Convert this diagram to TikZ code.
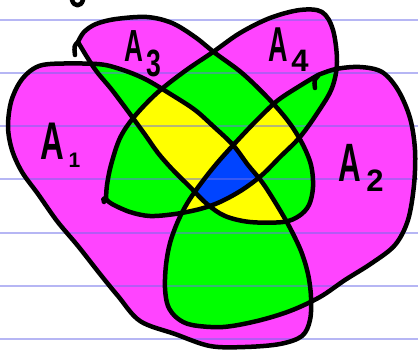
\documentclass[tikz,border=0pt]{standalone}
\usepackage{fontspec}
\setmainfont{Liberation Sans}
\usepackage{graphicx}
\definecolor{mag}{RGB}{255,68,255}
\definecolor{grn}{RGB}{0,255,0}
\definecolor{ylw}{RGB}{255,255,0}
\definecolor{blu}{RGB}{0,68,255}
\definecolor{rule}{RGB}{110,110,235}
\begin{document}
\begin{tikzpicture}[x=1pt,y=-1pt,
  outline/.style={draw=black,line width=4.5pt,line join=round,line cap=round},
  ruled/.style={draw=rule,line width=2.2pt,opacity=0.5},
  lab/.style={inner sep=0pt,outer sep=0pt,text=black,font=\bfseries}]
\useasboundingbox (0,0) rectangle (418,349);
\fill[white] (0,0) rectangle (418,349);
% set outlines
\def\SA{plot[smooth cycle,tension=0.55] coordinates {(50,64) (97,64) (120,69) (145,79) (172,95) (195,110) (213,126) (233,145) (248,165) (262,182) (275,202) (289,226) (301,251) (308,274) (311,297) (310,320) (302,336) (280,344) (245,347) (210,346) (175,334) (140,321) (118,296) (100,274) (78,246) (57,221) (38,194) (22,172) (12,150) (8,127) (11,102) (20,82) (33,69)}}
\def\SB{plot[smooth,tension=0.55] coordinates {(318,75) (336,69) (360,67) (382,72) (398,90) (410,118) (415,150) (414,185) (408,220) (395,245) (372,263) (345,280) (320,297) (290,311) (257,321) (223,327) (192,325) (177,318) (168,306) (165,288) (166,265) (170,243) (178,221) (188,202) (202,182) (218,162) (237,141) (256,121) (277,101) (298,87) (318,75)} -- cycle}
\def\SC{plot[smooth,tension=0.55] coordinates {(78,42) (84,32) (96,24) (116,19) (147,17) (172,23) (195,37) (215,53) (242,73) (268,98) (288,121) (302,143) (311,165) (313,187) (309,205) (299,216) (283,222) (250,222) (225,216) (207,204) (190,187) (172,169) (158,153) (146,136) (130,114) (112,90) (97,72) (87,57) (78,42)} -- cycle}
\def\SD{plot[smooth,tension=0.55] coordinates {(106,199) (107,185) (111,165) (120,138) (134,117) (157,93) (185,71) (213,52) (240,33) (270,18) (300,10) (322,12) (333,30) (337,62) (332,88) (318,112) (300,137) (280,157) (262,175) (242,190) (220,202) (200,209) (175,214) (150,216) (130,212) (112,204) (106,199)} -- cycle}
% exactly one set
\fill[mag] \SA; \fill[mag] \SB; \fill[mag] \SC; \fill[mag] \SD;
% two sets
\begin{scope}\clip \SA; \fill[grn] \SB; \fill[grn] \SC; \fill[grn] \SD; \end{scope}
\begin{scope}\clip \SB; \fill[grn] \SC; \fill[grn] \SD; \end{scope}
\begin{scope}\clip \SC; \fill[grn] \SD; \end{scope}
% three sets
\begin{scope}\clip \SA; \clip \SB; \fill[ylw] \SC; \fill[ylw] \SD; \end{scope}
\begin{scope}\clip \SA; \clip \SC; \fill[ylw] \SD; \end{scope}
\begin{scope}\clip \SB; \clip \SC; \fill[ylw] \SD; \end{scope}
% four sets
\begin{scope}\clip \SA; \clip \SB; \clip \SC; \fill[blu] \SD; \end{scope}
% ruled paper lines
\foreach \yy in {20,72.7,126,179.3,232.7,286,339.3} \draw[ruled] (0,\yy) -- (418,\yy);
% outlines
\draw[outline] \SA;
\draw[outline] \SB;
\draw[outline] \SC;
\draw[outline] \SD;
% pen tails
\draw[outline] (78,42) .. controls (74,46) .. (75,55);
\draw[outline] (318,76) .. controls (314,80) .. (315,88);
\draw[outline] (106,199) .. controls (103,198) .. (104,202);
\draw[outline] (72,0) .. controls (74,7) and (81,7) .. (83,0);
% labels
\node[lab] (a1) at (52,141) {\scalebox{0.62}[1]{\fontsize{53}{53}\selectfont A}};
\node[lab] (s1) at (74.5,160.5) {\fontsize{21}{21}\selectfont 1};
\node[lab] (a3) at (133.5,46) {\scalebox{0.58}[1]{\fontsize{45}{45}\selectfont A}};
\node[lab] (s3) at (154,63.5) {\scalebox{0.7}[1]{\fontsize{38}{38}\selectfont 3}};
\node[lab] (a4) at (278.5,44.5) {\scalebox{0.55}[1]{\fontsize{49}{49}\selectfont A}};
\node[lab] (s4) at (300,61) {\fontsize{31}{31}\selectfont 4};
\node[lab] (a2) at (350,162.5) {\scalebox{0.58}[1]{\fontsize{54}{54}\selectfont A}};
\node[lab] (s2) at (375,181) {\fontsize{31}{31}\selectfont 2};
\end{tikzpicture}
\end{document}
